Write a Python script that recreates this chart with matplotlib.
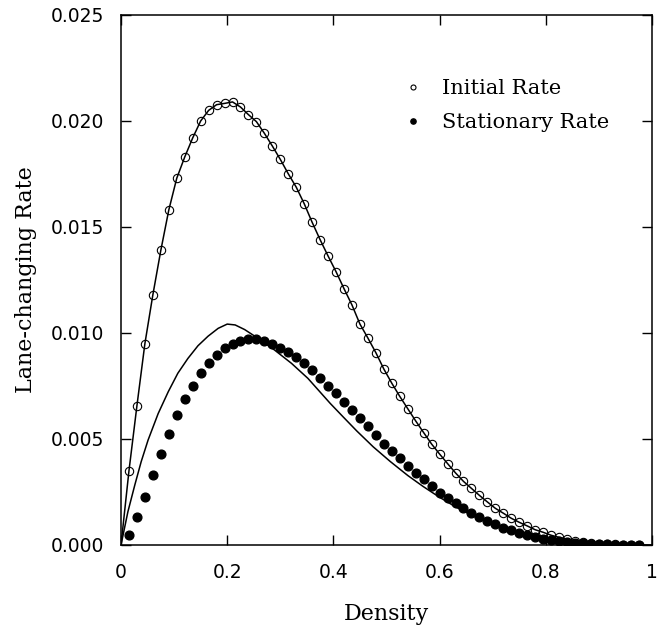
import numpy as np
import matplotlib
matplotlib.use('Agg')
import matplotlib.pyplot as plt

#------------------------------------DATA----------------------------------------#

# densities of the simulated points (spacing 0.015)
density = [0.015, 0.030, 0.045, 0.060, 0.075, 0.090, 0.105, 0.120, 0.135, 0.150,
           0.165, 0.180, 0.195, 0.210, 0.225, 0.240, 0.255, 0.270, 0.285, 0.300,
           0.315, 0.330, 0.345, 0.360, 0.375, 0.390, 0.405, 0.420, 0.435, 0.450,
           0.465, 0.480, 0.495, 0.510, 0.525, 0.540, 0.555, 0.570, 0.585, 0.600,
           0.615, 0.630, 0.645, 0.660, 0.675, 0.690, 0.705, 0.720, 0.735, 0.750,
           0.765, 0.780, 0.795, 0.810, 0.825, 0.840, 0.855, 0.870, 0.885, 0.900,
           0.915, 0.930, 0.945, 0.960, 0.975]

initial_rate = [0.00350, 0.00657, 0.00950, 0.01180, 0.01390, 0.01580, 0.01730, 0.01830, 0.01920, 0.02000,
                0.02050, 0.02077, 0.02083, 0.02090, 0.02066, 0.02030, 0.01997, 0.01942, 0.01882, 0.01819,
                0.01751, 0.01688, 0.01610, 0.01522, 0.01440, 0.01363, 0.01289, 0.01209, 0.01132, 0.01042,
                0.00976, 0.00907, 0.00830, 0.00763, 0.00701, 0.00643, 0.00585, 0.00530, 0.00476, 0.00429,
                0.00384, 0.00340, 0.00300, 0.00267, 0.00234, 0.00203, 0.00173, 0.00150, 0.00126, 0.00107,
                0.00090, 0.00072, 0.00060, 0.00046, 0.00036, 0.00028, 0.00020, 0.00015, 0.00010, 0.00007,
                0.00005, 0.00003, 0.00002, 0.00001, 0.00000]

stationary_rate = [0.00046, 0.00131, 0.00228, 0.00330, 0.00429, 0.00524, 0.00613, 0.00687, 0.00752, 0.00811,
                   0.00858, 0.00898, 0.00928, 0.00948, 0.00964, 0.00970, 0.00972, 0.00962, 0.00950, 0.00931,
                   0.00910, 0.00885, 0.00857, 0.00824, 0.00789, 0.00752, 0.00715, 0.00675, 0.00638, 0.00599,
                   0.00561, 0.00519, 0.00476, 0.00443, 0.00412, 0.00374, 0.00341, 0.00310, 0.00278, 0.00247,
                   0.00222, 0.00198, 0.00173, 0.00152, 0.00134, 0.00115, 0.00098, 0.00082, 0.00069, 0.00057,
                   0.00046, 0.00038, 0.00028, 0.00022, 0.00017, 0.00013, 0.00010, 0.00008, 0.00006, 0.00004,
                   0.00003, 0.00002, 0.00001, 0.00001, 0.00000]

# lower solid curve
curve_x = [0.0, 0.013, 0.026, 0.038, 0.051, 0.070, 0.089, 0.107, 0.126, 0.145, 0.164, 0.183,
           0.200, 0.215, 0.233, 0.258, 0.289, 0.321, 0.352, 0.394, 0.420, 0.444, 0.475, 0.507, 0.540,
           0.569, 0.600, 0.630, 0.665, 0.700, 0.750, 0.800, 0.850, 0.900, 0.950, 1.0]
curve_y = [0.0, 0.00157, 0.00283, 0.00393, 0.00495, 0.00620, 0.00723, 0.00810, 0.00880, 0.00940, 0.00985, 0.01022,
           0.01042, 0.01038, 0.01016, 0.00975, 0.00920, 0.00857, 0.00786, 0.00668, 0.00600, 0.00538, 0.00463, 0.00394,
           0.00328, 0.00276, 0.00225, 0.00180, 0.00135, 0.00098, 0.00058, 0.00030, 0.00013, 0.00004, 0.00001, 0.0]

xtick_vals = [0, 0.2, 0.4, 0.6, 0.8, 1.0]
xtick_text = ['0', '0.2', '0.4', '0.6', '0.8', '1']
ytick_vals = [0, 0.005, 0.010, 0.015, 0.020, 0.025]
ytick_text = ['0.000', '0.005', '0.010', '0.015', '0.020', '0.025']

#------------------------------------PLOT----------------------------------------#

fig = plt.figure(figsize=(6.69, 6.30), dpi=100)
ax = fig.add_axes([121/669, 1-545/630, 531/669, 530/630])

ax.plot([0.0] + density, [0.0] + initial_rate, '-', color='black', lw=1.1, zorder=2)
ax.plot(curve_x, curve_y, '-', color='black', lw=1.1, zorder=2)
ax.plot(density, initial_rate, 'o', mfc='none', mec='black', mew=0.8, ms=6, zorder=3,
        label='Initial Rate')
ax.plot(density, stationary_rate, 'o', mfc='black', mec='black', ms=6.3, zorder=4,
        label='Stationary Rate')

ax.set_xlim(0, 1)
ax.set_ylim(0, 0.025)
ax.set_xticks(xtick_vals)
ax.set_xticklabels(xtick_text)
ax.set_yticks(ytick_vals)
ax.set_yticklabels(ytick_text)
ax.tick_params(direction='in', length=7.5, width=1, top=True, right=True,
               labelsize=13.5, pad=12)
ax.tick_params(axis='x', pad=13)
for s in ax.spines.values():
    s.set_linewidth(1.1)

ax.set_xlabel('Density', family='DejaVu Serif', fontsize=16)
ax.set_ylabel('Lane-changing Rate', family='DejaVu Serif', fontsize=16)
ax.xaxis.set_label_coords(0.5, -0.109)
ax.yaxis.set_label_coords(-0.158, 0.5)

ax.legend(loc='upper left', bbox_to_anchor=(0.511, 0.898), frameon=False,
          prop={'family': 'DejaVu Serif', 'size': 15}, markerscale=0.6,
          borderpad=0, handlelength=1.0, handletextpad=0.9, labelspacing=0.69)

plt.savefig('out.png', dpi=100)
